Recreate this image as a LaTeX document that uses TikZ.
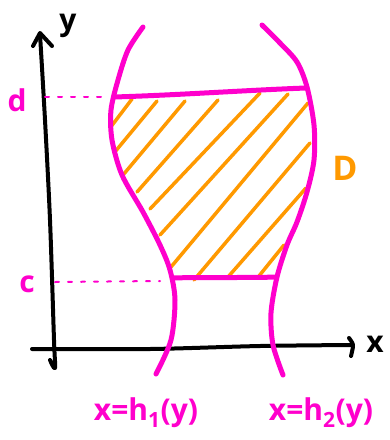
\documentclass[tikz,border=0pt]{standalone}
\usepackage{fontspec}
\setmainfont{Open Sans}
\definecolor{pinkc}{RGB}{255,0,204}
\definecolor{orangec}{RGB}{255,153,0}
\begin{document}
\begin{tikzpicture}[x=1pt,y=-1pt,line cap=round,line join=round,
  pinkline/.style={pinkc,line width=5pt},
  axisline/.style={black,line width=4pt},
  hatch/.style={orangec,line width=3.5pt},
  dotline/.style={pinkc,line width=2pt,dash pattern=on 4pt off 9pt},
  lab/.style={inner sep=0pt,font=\bfseries\fontsize{30}{32}\selectfont},
  biglab/.style={inner sep=0pt,font=\bfseries\fontsize{34}{36}\selectfont}]
\useasboundingbox (0,0) rectangle (390,440);
% axes
\draw[axisline] plot[smooth] coordinates {(50,360) (55,368) (54,340) (50,220) (45,120) (40,34)};
\draw[axisline] (33,46) -- (40,33) -- (52,46);
\draw[axisline] plot[smooth] coordinates {(32,349) (150,349) (260,346) (352,345)};
\draw[axisline] plot[smooth] coordinates {(349,338) (353,345) (351,356)};
% dotted guides
\draw[dotline] (45,97) -- (105,97);
\draw[dotline] (55,282) -- (160,281);
% hatching
\draw[hatch] (110,128) -- (132,99);
\draw[hatch] (114,153) -- (157,101);
\draw[hatch] (123,175) -- (185,101);
\draw[hatch] (137,192) -- (218,100);
\draw[hatch] (150,209) -- (260,93);
\draw[hatch] (160,235) -- (288,94);
\draw[hatch] (171,267) -- (308,103);
\draw[hatch] (194,280) -- (310,143);
\draw[hatch] (228,277) -- (306,188);
\draw[hatch] (259,276) -- (284,245);
% boundary curves
\draw[pinkline] plot[smooth] coordinates {(143,27) (128,50) (118,80) (111,110) (112,140) (122,175) (143,212) (160,245) (170,270) (175,300) (171,340) (156,374)};
\draw[pinkline] plot[smooth] coordinates {(262,25) (280,43) (297,62) (307,87) (314,125) (314,160) (307,192) (297,222) (287,245) (277,277) (271,313) (273,345) (283,375)};
\draw[pinkline] (114,97) .. controls (180,95) and (250,90) .. (306,88);
\draw[pinkline] (173,278) .. controls (200,277) and (250,278) .. (276,277);
% labels
\node[lab,black] (ylab) at (68,26) {y};
\node[lab,black] (xlab) at (375,344) {x};
\node[lab,pinkc] (dlab) at (17,100) {d};
\node[lab,pinkc] (clab) at (27,284) {c};
\node[biglab,orangec] (Dlab) at (345,168) {D};
\node[lab,pinkc] (h1lab) at (146,413) {x=h\textsubscript{1}(y)};
\node[lab,pinkc] (h2lab) at (321,413) {x=h\textsubscript{2}(y)};
\end{tikzpicture}
\end{document}
